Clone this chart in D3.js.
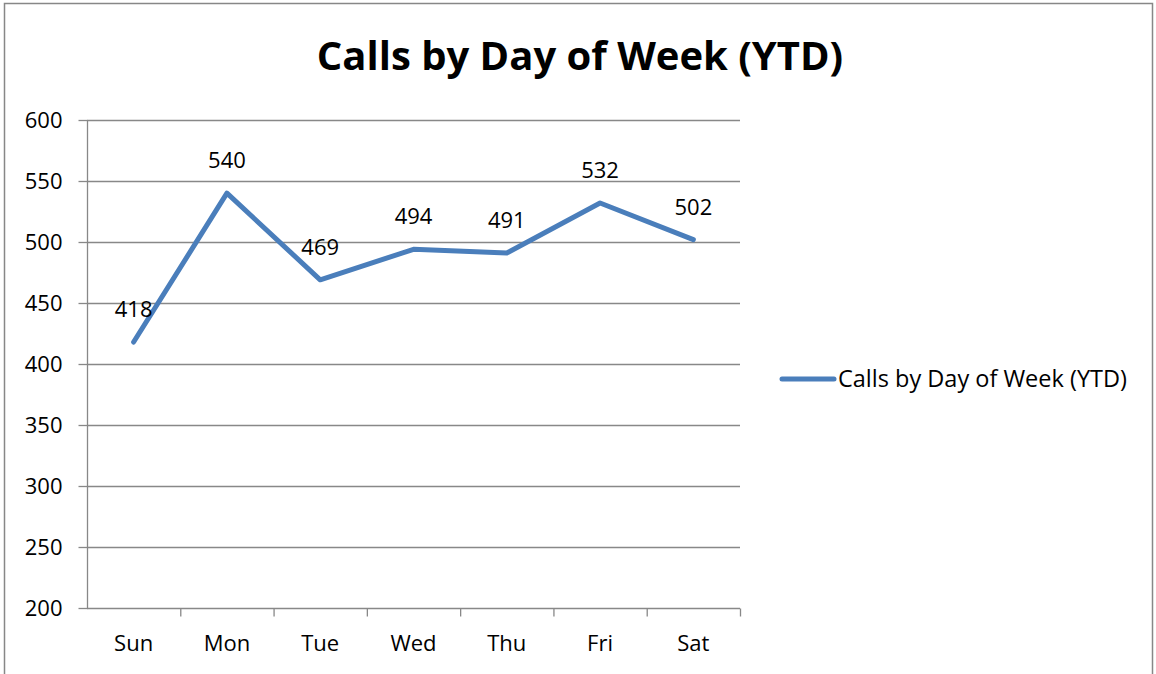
<!DOCTYPE html>
<html>
<head>
    <meta charset="utf-8">
    <title>Calls by Day of Week (YTD)</title>
</head>
<style>
    body { margin: 0; background: #fff; }
    text { font-family: "Open Sans", "Noto Sans", sans-serif; fill: #000; }
</style>
<body>
<svg width="1156" height="674"></svg>
<script src="https://d3js.org/d3.v7.min.js" charset="utf-8"></script>
<script>

    var days = ['Sun', 'Mon', 'Tue', 'Wed', 'Thu', 'Fri', 'Sat'];
    var calls = [418, 540, 469, 494, 491, 532, 502];
    var yTicks = [200, 250, 300, 350, 400, 450, 500, 550, 600];
    var seriesName = 'Calls by Day of Week (YTD)';

    var svg = d3.select('svg');

    // outer chart frame
    svg.append('rect')
        .attr('x', 4.5).attr('y', 3.5)
        .attr('width', 1148).attr('height', 680)
        .attr('fill', '#fff')
        .attr('stroke', '#878787')
        .attr('stroke-width', 1.5);

    var plotLeft = 87, plotRight = 740, plotTop = 120, plotBottom = 608;

    var x = d3.scaleBand().domain(days).range([plotLeft, plotRight]);
    var y = d3.scaleLinear().domain([200, 600]).range([plotBottom, plotTop]);

    svg.append('text')
        .attr('x', 580).attr('y', 70)
        .attr('text-anchor', 'middle')
        .attr('font-size', '40px')
        .attr('font-weight', 'bold')
        .text('Calls by Day of Week (YTD)');

    // gridlines
    svg.append('g')
        .selectAll('line')
        .data(yTicks.slice(1))
        .join('line')
        .attr('x1', plotLeft).attr('x2', plotRight)
        .attr('y1', d => y(d) + 0.5).attr('y2', d => y(d) + 0.5)
        .attr('stroke', '#888')
        .attr('stroke-width', 1.3);

    var yAxis = svg.append('g')
        .attr('transform', 'translate(' + (plotLeft + 0.5) + ',0)')
        .call(d3.axisLeft(y).tickValues(yTicks).tickSize(9).tickPadding(16));
    yAxis.selectAll('line, path').attr('stroke', '#888').attr('stroke-width', 1.3);
    yAxis.select('path').attr('d', 'M0,' + plotTop + 'V' + plotBottom);
    yAxis.selectAll('text')
        .attr('font-size', '22px')
        .attr('font-family', '"Open Sans", sans-serif')
        .attr('fill', '#000');

    var xAxis = svg.append('g')
        .attr('transform', 'translate(0,' + (plotBottom + 0.5) + ')');
    xAxis.append('line')
        .attr('x1', plotLeft).attr('x2', plotRight)
        .attr('stroke', '#888').attr('stroke-width', 1.3);
    xAxis.selectAll('.tk')
        .data(days)
        .join('line')
        .attr('class', 'tk')
        .attr('x1', d => x(d) + x.bandwidth() + 0.5)
        .attr('x2', d => x(d) + x.bandwidth() + 0.5)
        .attr('y1', 0).attr('y2', 8)
        .attr('stroke', '#888').attr('stroke-width', 1.3);
    xAxis.selectAll('text')
        .data(days)
        .join('text')
        .attr('x', d => x(d) + x.bandwidth() / 2)
        .attr('y', 42)
        .attr('text-anchor', 'middle')
        .attr('font-size', '22px')
        .text(d => d);

    var line = d3.line()
        .x((d, i) => x(days[i]) + x.bandwidth() / 2)
        .y(d => y(d));

    svg.append('path')
        .datum(calls)
        .attr('d', line)
        .attr('fill', 'none')
        .attr('stroke', '#4a7ebb')
        .attr('stroke-width', 5)
        .attr('stroke-linecap', 'round')
        .attr('stroke-linejoin', 'round');

    svg.append('g')
        .selectAll('text')
        .data(calls)
        .join('text')
        .attr('x', (d, i) => x(days[i]) + x.bandwidth() / 2)
        .attr('y', d => y(d) - 25)
        .attr('text-anchor', 'middle')
        .attr('font-size', '22px')
        .text(d => d);

    // legend
    var legend = svg.append('g').attr('transform', 'translate(782,379)');
    legend.append('line')
        .attr('x1', 0).attr('x2', 52)
        .attr('stroke', '#4a7ebb')
        .attr('stroke-width', 5)
        .attr('stroke-linecap', 'round');
    legend.append('text')
        .attr('x', 56).attr('y', 8)
        .attr('font-size', '23.5px')
        .text(seriesName);

</script>
</body>
</html>
